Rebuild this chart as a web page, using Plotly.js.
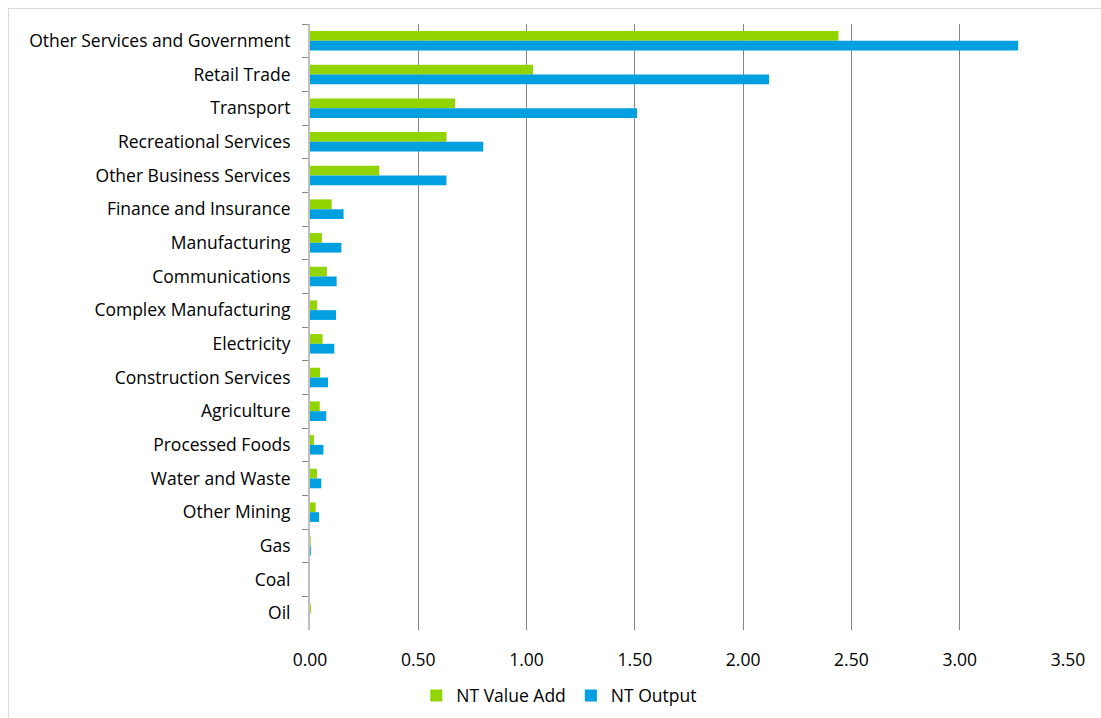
<!DOCTYPE html>
<html>
<head>
<meta charset="utf-8">
<script src="https://cdn.plot.ly/plotly-3.0.1.min.js"></script>
<style>
html,body{margin:0;padding:0;background:#fff;}
#frame{position:absolute;left:8px;top:8px;width:1200px;height:800px;border:1px solid #d9d9d9;}
#chart{position:absolute;left:0;top:0;width:1101px;height:718px;}
</style>
</head>
<body>
<div id="frame"></div>
<div id="chart"></div>
<script>
const categories = ["Other Services and Government","Retail Trade","Transport","Recreational Services","Other Business Services","Finance and Insurance","Manufacturing","Communications","Complex Manufacturing","Electricity","Construction Services","Agriculture","Processed Foods","Water and Waste","Other Mining","Gas","Coal","Oil"];
const valueAdd = [2.44,1.03,0.67,0.63,0.32,0.10,0.055,0.078,0.033,0.058,0.046,0.045,0.018,0.032,0.026,0.003,0,0.004];
const output   = [3.27,2.12,1.51,0.80,0.63,0.155,0.145,0.123,0.12,0.112,0.083,0.075,0.062,0.052,0.042,0.004,0,0];
const xTicks = [0,0.5,1,1.5,2,2.5,3,3.5];
const xTickText = ["0.00","0.50","1.00","1.50","2.00","2.50","3.00","3.50"];

const font = "Open Sans, Liberation Sans, sans-serif";
const traces = [
  {type:"bar", orientation:"h", name:"NT Value Add", y:categories, x:valueAdd,
   marker:{color:"#92D400", line:{width:0}}},
  {type:"bar", orientation:"h", name:"NT Output", y:categories, x:output,
   marker:{color:"#00A0E0", line:{width:0}}}
];
const layout = {
  width:1101, height:718,
  margin:{l:310, r:33, t:24, b:88},
  paper_bgcolor:"rgba(0,0,0,0)", plot_bgcolor:"rgba(0,0,0,0)",
  barmode:"group", bargap:0.42, bargroupgap:0,
  font:{family:font, size:17.5, color:"#000"},
  xaxis:{range:[0,3.5], tickvals:xTicks, ticktext:xTickText, showgrid:true,
         gridcolor:"#868686", gridwidth:1, zeroline:false, showline:false,
         ticks:"", tickfont:{size:17.5}, ticklabelstandoff:17},
  yaxis:{autorange:"reversed", type:"category", showline:true, linecolor:"#bfbfbf", linewidth:2,
         ticks:"outside", tickson:"boundaries", ticklen:6, tickcolor:"#868686",
         showgrid:false, zeroline:false, tickfont:{size:17.5}, ticklabelstandoff:14},
  showlegend:true,
  legend:{orientation:"h", xref:"container", yref:"container", x:0.508, xanchor:"center",
          y:0.031, yanchor:"middle", font:{size:17.5}, traceorder:"normal", itemwidth:30}
};
Plotly.newPlot("chart", traces, layout, {displayModeBar:false, staticPlot:true});
</script>
</body>
</html>
